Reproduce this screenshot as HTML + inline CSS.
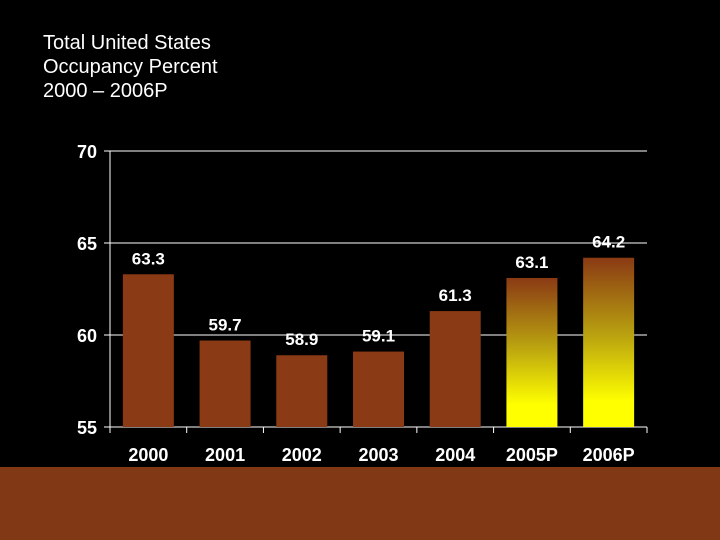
<!DOCTYPE html>
<html><head><meta charset="utf-8"><style>
html,body{margin:0;padding:0;background:#000;}
#wrap{position:relative;width:720px;height:540px;background:#000;overflow:hidden;font-family:"Liberation Sans",sans-serif;}
#title{position:absolute;left:43px;top:31px;color:#fff;font-size:20px;line-height:24px;}
#band{position:absolute;left:0;top:467px;width:720px;height:73px;background:#803914;}
svg{position:absolute;left:0;top:0;}
</style></head><body>
<div id="wrap">
<div id="title">Total United States<br>Occupancy Percent<br>2000 – 2006P</div>
<div id="band"></div>
<svg id="chart" width="720" height="540">
<defs><linearGradient id="gy" x1="0" y1="0" x2="0" y2="1">
<stop offset="0" stop-color="#8a3a14"/><stop offset="0.45" stop-color="#b8a010"/><stop offset="0.85" stop-color="#ffff00"/><stop offset="1" stop-color="#ffff00"/>
</linearGradient></defs>
</svg>
</div>
<script>
const categories=["2000","2001","2002","2003","2004","2005P","2006P"];
const values=[63.3,59.7,58.9,59.1,61.3,63.1,64.2];
const projected=[false,false,false,false,false,true,true];
const yTicks=[55,60,65,70];
const NS="http://www.w3.org/2000/svg";
const svg=document.getElementById('chart');
const X0=110,X1=647,Y0=427,Y1=151,YMIN=55,YMAX=70;
const step=(X1-X0)/categories.length;
const y=v=>Y0-(v-YMIN)/(YMAX-YMIN)*(Y0-Y1);
const xc=i=>X0+step*(i+0.5);
function mk(t,a){const e=document.createElementNS(NS,t);for(const k in a)e.setAttribute(k,a[k]);svg.appendChild(e);return e;}
yTicks.forEach(t=>{
  if(t>YMIN){const g=mk('line',{x1:104,x2:X1,y1:y(t),y2:y(t),stroke:'#fff','stroke-width':1});
  
  }
  const l=mk('text',{x:97,y:y(t)+7,'text-anchor':'end',fill:'#fff','font-size':18,'font-weight':'bold','font-family':'Liberation Sans'});
  l.textContent=t;
  
  
});
const ax=mk('line',{x1:X0,x2:X0,y1:Y1,y2:Y0,stroke:'#fff','stroke-width':1});


const bx=mk('line',{x1:104,x2:X1,y1:Y0,y2:Y0,stroke:'#fff','stroke-width':1});


for(let i=0;i<=categories.length;i++){
  const t=mk('line',{x1:X0+step*i,x2:X0+step*i,y1:Y0,y2:Y0+6,stroke:'#fff','stroke-width':1});
  
  
}
categories.forEach((c,i)=>{
  const v=values[i],bw=51;
  const r=mk('rect',{x:xc(i)-bw/2,y:y(v),width:bw,height:Y0-y(v),fill:projected[i]?'url(#gy)':'#8a3a14'});
  
  
  const vl=mk('text',{x:xc(i),y:y(v)-10,'text-anchor':'middle',fill:'#fff','font-size':17,'font-weight':'bold','font-family':'Liberation Sans'});
  vl.textContent=v.toFixed(1);
  
  
  const cl=mk('text',{x:xc(i),y:461,'text-anchor':'middle',fill:'#fff','font-size':18,'font-weight':'bold','font-family':'Liberation Sans'});
  cl.textContent=c;
  
  
});
</script>
</body></html>
